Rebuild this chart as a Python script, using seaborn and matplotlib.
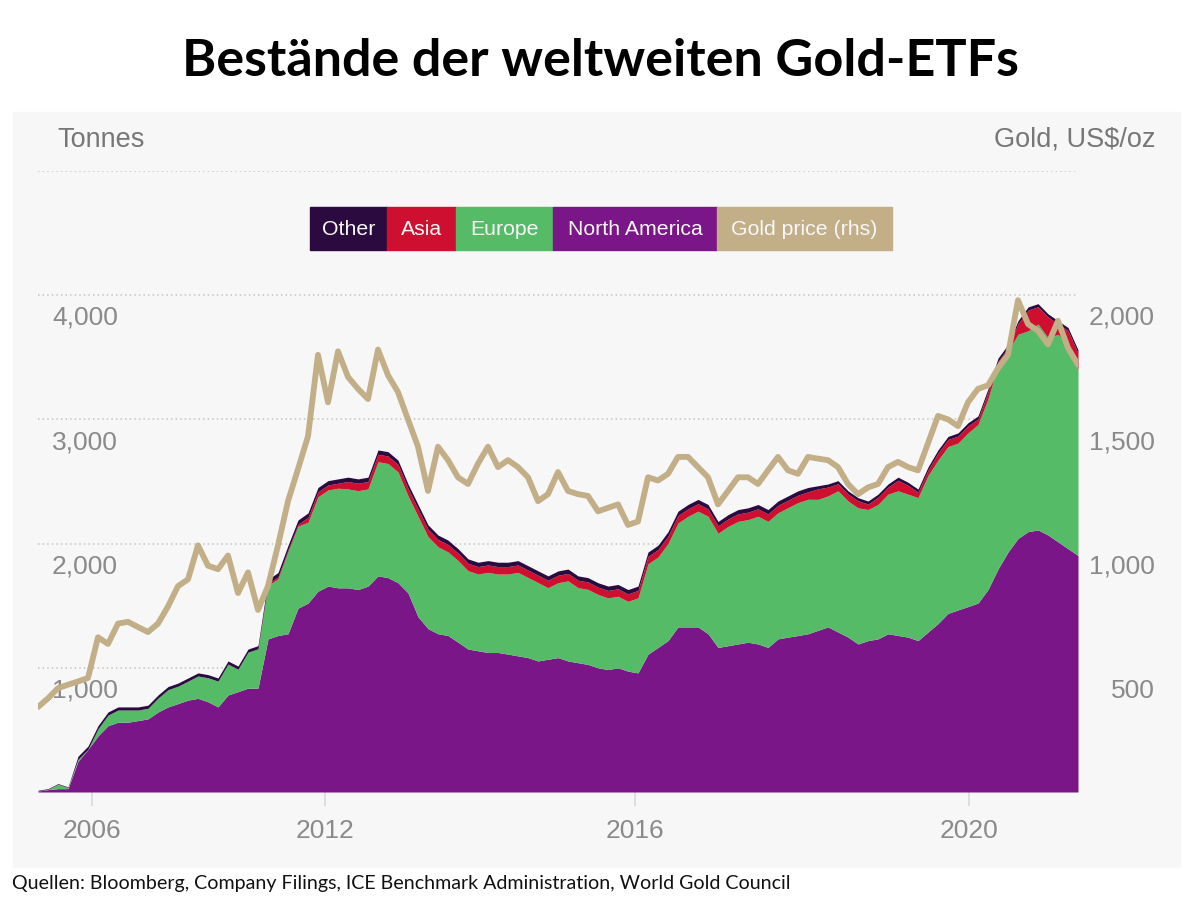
import numpy as np
import pandas as pd
import matplotlib
matplotlib.use('Agg')
import matplotlib.pyplot as plt
from matplotlib.patches import Rectangle
import seaborn as sns

# one reading every ~10 px along the (irregular) time axis of the original chart
tick_labels = ['2006', '2012', '2016', '2020']
tick_pos = [5.4, 28.7, 59.7, 93.1]

# stacked tops in tonnes: NA at bottom, then Europe, Asia, Other on top
north_america = [8, 19, 27, 27, 247, 343, 452, 534, 562, 562, 575, 589, 644, 685, 712, 740, 754, 726, 685, 781,
                 808, 836, 836, 1233, 1260, 1274, 1480,
                 1521, 1617, 1658, 1644, 1644, 1630, 1658, 1740, 1726, 1685, 1603, 1411, 1315, 1274, 1260, 1206,
                 1151, 1137, 1123, 1123, 1110, 1096, 1082, 1055, 1069, 1082,
                 1055, 1041, 1027, 1000, 986, 1000, 973, 959, 1110, 1164, 1219, 1329, 1329, 1329, 1274, 1164,
                 1178, 1192, 1206, 1192, 1164, 1233, 1247, 1260, 1274, 1302,
                 1329, 1288, 1247, 1192, 1219, 1233, 1274, 1260, 1247, 1219, 1288, 1356, 1438, 1466, 1493, 1521,
                 1630, 1795, 1932, 2041, 2096, 2110, 2069, 2014, 1959, 1904]
europe_top = [9, 22, 63, 36, 263, 345, 509, 619, 660, 660, 660, 674, 756, 824, 852, 893, 934, 920, 893, 1030,
              989, 1126, 1153, 1662, 1717, 1936, 2140,
              2172, 2377, 2432, 2446, 2440, 2426, 2440, 2659, 2645, 2577, 2385, 2220, 2056, 1974, 1933, 1864,
              1782, 1755, 1768, 1755, 1755, 1768, 1727, 1686, 1645, 1685,
              1700, 1645, 1631, 1590, 1563, 1576, 1535, 1563, 1837, 1892, 2001, 2166, 2220, 2261, 2220, 2083,
              2138, 2179, 2193, 2220, 2179, 2248, 2289, 2330, 2357,
              2356, 2384, 2425, 2343, 2288, 2274, 2315, 2398, 2425, 2398, 2370, 2548, 2672, 2781, 2809, 2891,
              2959, 3165, 3439, 3548, 3685, 3713, 3768, 3658, 3685, 3603, 3400]
asia_top = [9, 22, 63, 36, 263, 345, 509, 619, 660, 660, 660, 674, 756, 824, 852, 893, 934, 920, 893, 1030,
            989, 1126, 1153, 1677, 1732, 1951, 2155,
            2212, 2417, 2472, 2486, 2500, 2486, 2500, 2719, 2705, 2637, 2445, 2280, 2116, 2034, 1993, 1924,
            1842, 1815, 1828, 1815, 1815, 1828, 1787, 1746, 1705, 1745,
            1760, 1705, 1691, 1650, 1623, 1636, 1595, 1623, 1897, 1952, 2061, 2226, 2280, 2321, 2280, 2143,
            2198, 2239, 2253, 2280, 2239, 2308, 2349, 2390, 2417,
            2441, 2455, 2482, 2400, 2345, 2318, 2373, 2455, 2510, 2469, 2414, 2592, 2729, 2838, 2866, 2948,
            3003, 3222, 3468, 3578, 3770, 3880, 3907, 3825, 3770, 3715, 3535]
other_top = [14, 27, 68, 41, 288, 370, 534, 644, 685, 685, 685, 699, 781, 849, 877, 918, 959, 945, 918, 1055,
             1014, 1151, 1178, 1712, 1767, 1986, 2190,
             2247, 2452, 2507, 2521, 2535, 2521, 2535, 2754, 2740, 2672, 2480, 2315, 2151, 2069, 2028, 1959,
             1877, 1850, 1863, 1850, 1850, 1863, 1822, 1781, 1740, 1780,
             1795, 1740, 1726, 1685, 1658, 1671, 1630, 1658, 1932, 1987, 2096, 2261, 2315, 2356, 2315, 2178,
             2233, 2274, 2288, 2315, 2274, 2343, 2384, 2425, 2452, 2466,
             2480, 2507, 2425, 2370, 2343, 2398, 2480, 2535, 2494, 2439, 2617, 2754, 2863, 2891, 2973, 3028,
             3247, 3493, 3603, 3795, 3905, 3932, 3850, 3795, 3740, 3560]
# gold price, US$/oz (rhs)
gold_price = [342, 377, 418, 432, 445, 459, 623, 596, 678, 685, 664, 644, 678, 747, 829, 856, 993, 911, 897, 952,
              801, 884, 733, 829, 993, 1171, 1300,
              1432, 1760, 1569, 1774, 1671, 1623, 1582, 1781, 1678, 1610, 1500, 1390, 1212, 1390, 1336, 1267,
              1240, 1322, 1390, 1308, 1336, 1308, 1267, 1171, 1199, 1288,
              1212, 1199, 1192, 1130, 1144, 1158, 1075, 1089, 1267, 1254, 1281, 1349, 1349, 1308, 1267, 1158,
              1212, 1267, 1267, 1240, 1295, 1349, 1295, 1281, 1349, 1342,
              1336, 1308, 1240, 1199, 1226, 1240, 1308, 1329, 1308, 1295, 1404, 1514, 1500, 1473, 1569, 1623,
              1637, 1706, 1760, 1980, 1884, 1856, 1802, 1897, 1788, 1720]

left_ticks = [1000, 2000, 3000, 4000]
right_ticks = [500, 1000, 1500, 2000]
legend_names = ['Other', 'Asia', 'Europe', 'North America', 'Gold price (rhs)']

C_NA = '#7b1688'
C_EU = '#55bb66'
C_ASIA = '#cf0f2f'
C_OTHER = '#2b0b3f'
C_GOLD = '#c2ae87'
GREY = '#8a8a8a'

sns.set_theme(style='white')
plt.rcParams['font.family'] = ['Liberation Sans', 'DejaVu Sans']

W, H = 1200, 904
fig = plt.figure(figsize=(12, 9.04), dpi=100)
fx = lambda p: p / W
fy = lambda p: 1 - p / H

fig.patches.append(Rectangle((fx(13), fy(868)), fx(1180) - fx(13), fy(113) - fy(868),
                             transform=fig.transFigure, color='#f7f7f7', zorder=-5))

ax = fig.add_axes([fx(38), fy(793), fx(1078) - fx(38), fy(172) - fy(793)])
ax.set_facecolor('none')
df = pd.DataFrame({'t': np.arange(len(gold_price)), 'na': north_america, 'eu': europe_top,
                   'asia': asia_top, 'other': other_top, 'gold': gold_price})

ax.fill_between(df.t, 0, df.na, color=C_NA, lw=0, zorder=2)
ax.fill_between(df.t, df.na, df.eu, color=C_EU, lw=0, zorder=2)
ax.fill_between(df.t, df.eu, df.asia, color=C_ASIA, lw=0, zorder=2)
ax.fill_between(df.t, df.asia, df.other, color=C_OTHER, lw=0, zorder=2)

ax.set_xlim(0, len(gold_price) - 1)
ax.set_ylim(0, 5000)
ax.set_yticks(left_ticks + [5000])
ax.yaxis.grid(True, linestyle=(0, (1, 2)), color='#c4c4c4', lw=1.1)
ax.set_axisbelow(True)
ax.tick_params(axis='y', length=0, labelleft=False)
ax.set_xticks(tick_pos, tick_labels)
ax.tick_params(axis='x', length=10, width=1.2, color='#dadada', pad=9,
               labelsize=19, labelcolor=GREY, bottom=True)
for s in ax.spines.values():
    s.set_visible(False)

for v in left_ticks:
    ax.annotate(f'{v:,}', xy=(0, v), xycoords=('axes fraction', 'data'), xytext=(10, -7),
                textcoords='offset points', ha='left', va='top', fontsize=19, color=GREY, zorder=1)

ax2 = ax.twinx()
sns.lineplot(data=df, x='t', y='gold', ax=ax2, color=C_GOLD, lw=4.2, zorder=5)
ax2.set_ylim(0, 2500)
ax2.set_xlim(0, len(gold_price) - 1)
ax2.set_yticks([])
ax2.set_ylabel('')
ax2.set_xlabel('')
ax.set_xlabel('')
for s in ax2.spines.values():
    s.set_visible(False)
for v in right_ticks:
    ax2.annotate(f'{v:,}', xy=(1, v), xycoords=('axes fraction', 'data'), xytext=(55, -7),
                 textcoords='offset points', ha='right', va='top', fontsize=19, color=GREY)

fig.text(fx(57), fy(140), 'Tonnes', fontsize=19.5, color='#777777', ha='left', va='center')
fig.text(fx(1155), fy(140), 'Gold, US$/oz', fontsize=19.5, color='#777777', ha='right', va='center')

# legend boxes
edges = [310, 387, 456, 553, 717, 892]
colors = [C_OTHER, C_ASIA, C_EU, C_NA, C_GOLD]
for name, c, x0, x1 in zip(legend_names, colors, edges[:-1], edges[1:]):
    fig.patches.append(Rectangle((fx(x0), fy(251)), fx(x1) - fx(x0), fy(208) - fy(251),
                                 transform=fig.transFigure, color=c, zorder=3))
    fig.text(fx((x0 + x1) / 2), fy(229.5), name, fontsize=15.3, color='#f8f8f8',
             ha='center', va='center', zorder=4)

fig.text(0.5, fy(62), 'Bestände der weltweiten Gold-ETFs', fontsize=37.5, fontweight='bold',
         family=['Lato', 'DejaVu Sans'], ha='center', va='center', color='black')
fig.text(fx(12), fy(884), 'Quellen: Bloomberg, Company Filings, ICE Benchmark Administration, World Gold Council',
         fontsize=14.1, family=['Lato', 'DejaVu Sans'], ha='left', va='center', color='#111111')

fig.savefig('out.png', dpi=100)
